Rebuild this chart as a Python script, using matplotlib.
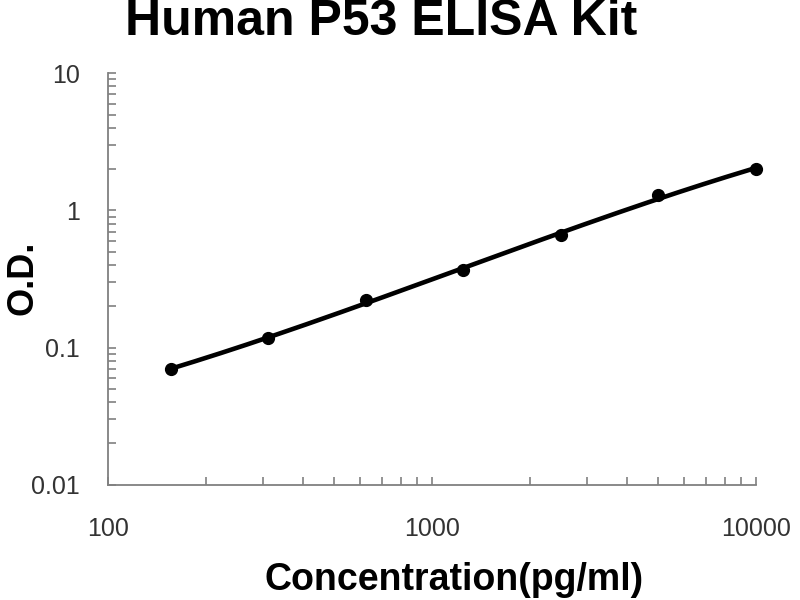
import numpy as np
import matplotlib.pyplot as plt
from matplotlib.ticker import LogLocator, FixedLocator, FixedFormatter, NullFormatter

# standard curve data
conc = [156.25, 312.5, 625, 1250, 2500, 5000, 10000]
od = [0.07, 0.117, 0.222, 0.367, 0.66, 1.29, 2.0]

x_ticks = [100, 1000, 10000]
x_tick_labels = ["100", "1000", "10000"]
y_ticks = [0.01, 0.1, 1, 10]
y_tick_labels = ["0.01", "0.1", "1", "10"]

plt.rcParams['font.family'] = ['Liberation Sans', 'DejaVu Sans']

fig = plt.figure(figsize=(8, 6), dpi=100)
ax = fig.add_axes([0.135, 0.192, 0.81, 0.686])

# trend line fitted in log-log space
lx = np.log10(conc)
ly = np.log10(od)
coef = np.polyfit(lx, ly, 3)
xs = np.linspace(lx[0], lx[-1], 200)
ax.plot(10 ** xs, 10 ** np.polyval(coef, xs), color='black', lw=3.3,
        solid_capstyle='round', clip_on=False)
ax.plot(conc, od, 'o', color='black', markersize=8.5, clip_on=False)

ax.set_xscale('log')
ax.set_yscale('log')
ax.set_xlim(100, 10000)
ax.set_ylim(0.01, 10)

ax.xaxis.set_major_locator(FixedLocator(x_ticks))
ax.xaxis.set_major_formatter(FixedFormatter(x_tick_labels))
ax.yaxis.set_major_locator(FixedLocator(y_ticks))
ax.yaxis.set_major_formatter(FixedFormatter(y_tick_labels))
ax.xaxis.set_minor_locator(LogLocator(base=10, subs=np.arange(2, 10)))
ax.yaxis.set_minor_locator(LogLocator(base=10, subs=np.arange(2, 10)))
ax.xaxis.set_minor_formatter(NullFormatter())
ax.yaxis.set_minor_formatter(NullFormatter())

for s in ['top', 'right']:
    ax.spines[s].set_visible(False)
for s in ['left', 'bottom']:
    ax.spines[s].set_color('#808080')
    ax.spines[s].set_linewidth(1.3)

ax.tick_params(which='both', direction='in', color='#808080', width=1.2, length=6)
ax.tick_params(axis='x', which='major', pad=23, labelsize=18, labelcolor='#333333')
ax.tick_params(axis='y', which='major', pad=20, labelsize=18, labelcolor='#333333')

fig.text(0.476, 1 - 35 / 600, 'Human P53 ELISA Kit', ha='center', va='baseline',
         fontsize=36, fontweight='bold')
fig.text(0.5675, 0.033, 'Concentration(pg/ml)', ha='center', va='center',
         fontsize=27, fontweight='bold')
fig.text(0.029, 0.537, 'O.D.', ha='center', va='center', rotation=90,
         fontsize=26, fontweight='bold')

fig.savefig('out.png', dpi=100)
